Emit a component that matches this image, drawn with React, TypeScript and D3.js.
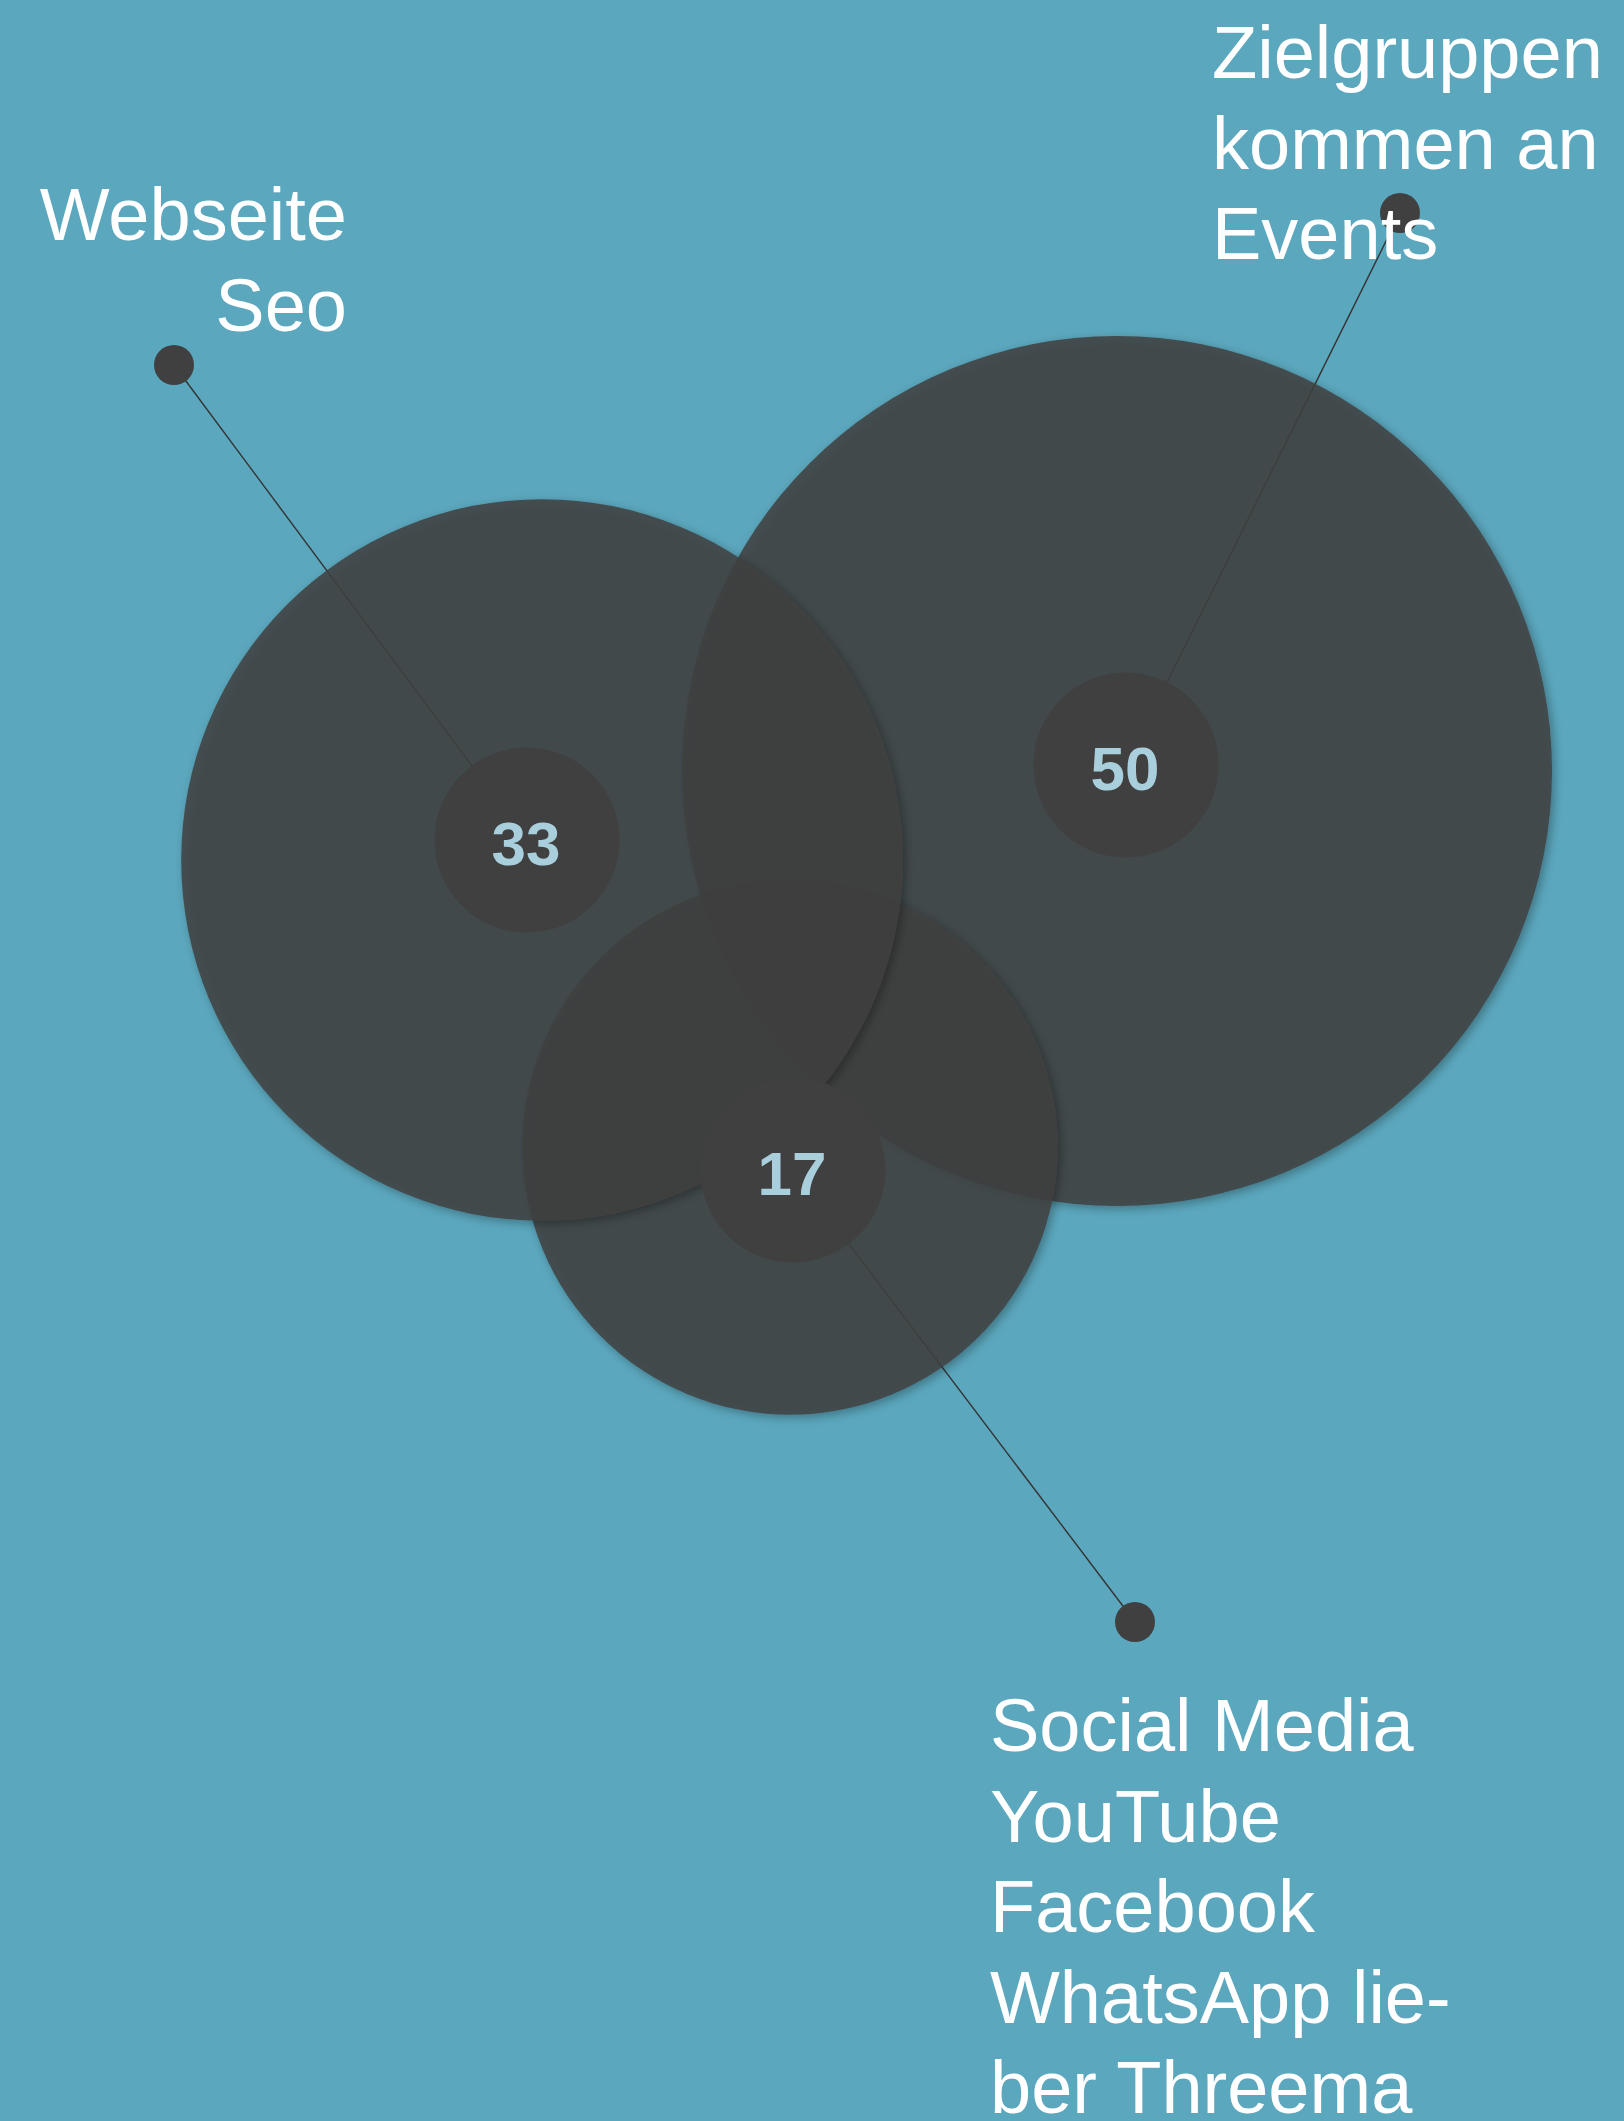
import React from "react";
import * as d3 from "d3";

// ---- data ----
const setNames = ["Webseite Seo", "Zielgruppen kommen an Events", "Social Media YouTube Facebook WhatsApp lieber Threema"];
const setValues = [33, 50, 17];
const labelLines: string[][] = [
  ["Webseite", "Seo"],
  ["Zielgruppen", "kommen an", "Events"],
  ["Social Media", "YouTube", "Facebook", "WhatsApp lie-", "ber Threema"],
];

// ---- layout (positions only) ----
const W = 1624;
const H = 2121;
const circleCenters: [number, number][] = [
  [542, 860],
  [1117, 771],
  [790, 1147],
];
const innerCenters: [number, number][] = [
  [527, 840],
  [1126, 765],
  [793, 1170],
];
const dotCenters: [number, number][] = [
  [174, 365],
  [1400, 213],
  [1135, 1622],
];
const labelAnchor: { x: number; y: number; anchor: string }[] = [
  { x: 347, y: 240, anchor: "end" },
  { x: 1212, y: 78, anchor: "start" },
  { x: 990, y: 1751, anchor: "start" },
];
const drawOrder = [1, 2, 0];

export default function App() {
  const rScale = d3
    .scalePow()
    .exponent(0.45)
    .domain([0, d3.max(setValues) as number])
    .range([0, 435]);
  const lineH = 90.5;
  const font = "'Liberation Sans', Arial, Helvetica, sans-serif";

  return (
    <svg
      width={W}
      height={H}
      viewBox={`0 0 ${W} ${H}`}
      style={{ position: "absolute", left: 0, top: 0, display: "block" }}
    >
      <defs>
        <filter id="shadow" x="-20%" y="-20%" width="140%" height="140%">
          <feDropShadow dx="3" dy="3" stdDeviation="5" floodColor="#000" floodOpacity="0.35" />
        </filter>
      </defs>
      <rect x={0} y={0} width={W} height={H} fill="#5ba7bd" />

      {/* connector lines */}
      {setValues.map((v, i) => (
        <line
          key={"l" + i}
          x1={dotCenters[i][0]}
          y1={dotCenters[i][1]}
          x2={innerCenters[i][0]}
          y2={innerCenters[i][1]}
          stroke="#333"
          strokeWidth={1.4}
        />
      ))}

      {/* big circles */}
      {drawOrder.map((i) => (
        <circle
          key={"c" + i}
          cx={circleCenters[i][0]}
          cy={circleCenters[i][1]}
          r={rScale(setValues[i])}
          fill="#404040"
          fillOpacity={0.85}
          filter="url(#shadow)"
        >
          <title>{setNames[i]}</title>
        </circle>
      ))}

      {/* inner circles + values */}
      {setValues.map((v, i) => (
        <g key={"i" + i}>
          <circle cx={innerCenters[i][0]} cy={innerCenters[i][1]} r={92.5} fill="#404040" />
          <text
            x={innerCenters[i][0] - 1}
            y={innerCenters[i][1] + 25}
            textAnchor="middle"
            fontFamily={font}
            fontWeight="bold"
            fontSize={62}
            fill="#a9cfdc"
          >
            {v}
          </text>
        </g>
      ))}

      {/* dots */}
      {dotCenters.map((d, i) => (
        <circle key={"d" + i} cx={d[0]} cy={d[1]} r={20} fill="#404040" />
      ))}

      {/* labels */}
      {labelLines.map((lines, i) => (
        <text
          key={"t" + i}
          textAnchor={labelAnchor[i].anchor}
          fontFamily={font}
          fontSize={74}
          fill="#ffffff"
        >
          {lines.map((ln, j) => (
            <tspan key={j} x={labelAnchor[i].x} y={labelAnchor[i].y + j * lineH}>
              {ln}
            </tspan>
          ))}
        </text>
      ))}
    </svg>
  );
}
